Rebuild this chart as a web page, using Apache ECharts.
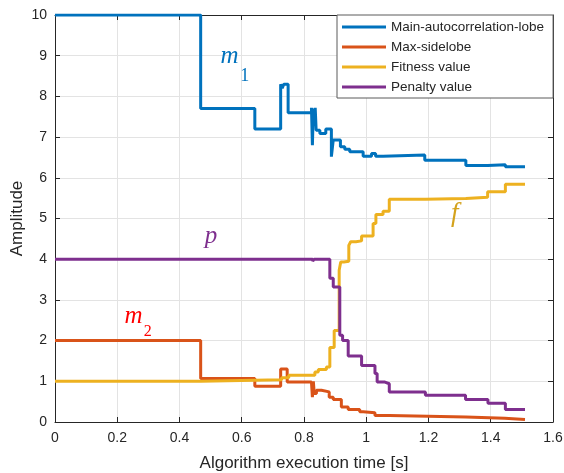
<!DOCTYPE html>
<html>
<head>
<meta charset="utf-8">
<script src="https://cdn.jsdelivr.net/npm/echarts@6/dist/echarts.min.js"></script>
<style>html,body{margin:0;padding:0;background:#fff}#c{width:564px;height:473px}</style>
</head>
<body>
<div id="c"></div>
<script>
// Step data: [time, value]; value holds from this time until the next point
var mainLobe = [[0,10],[0.468,7.7],[0.642,7.2],[0.725,8.3],[0.73,8.2],[0.735,8.3],[0.749,7.6],[0.824,7.72],[0.827,6.8],[0.830,7.7],[0.833,7.3],[0.836,7.72],[0.839,7.17],[0.851,7.09],[0.87,7.2],[0.888,6.52],[0.894,6.93],[0.917,6.76],[0.931,6.70],[0.947,6.64],[0.99,6.53],[1.017,6.6],[1.03,6.53],[1.054,6.56],[1.188,6.43],[1.32,6.3],[1.39,6.32],[1.447,6.27],[1.51,6.27]];
var maxSidelobe = [[0,2.0],[0.468,1.07],[0.642,0.88],[0.725,1.30],[0.746,0.98],[0.824,1.02],[0.827,0.61],[0.830,1.0],[0.833,0.7],[0.84,0.78],[0.856,0.74],[0.881,0.61],[0.894,0.55],[0.92,0.37],[0.942,0.31],[0.979,0.25],[0.99,0.23],[1.028,0.16],[1.074,0.12],[1.32,0.09],[1.445,0.06],[1.51,0.06]];
var fitness = [[0,1.0],[0.468,1.04],[0.728,1.09],[0.751,1.15],[0.835,1.23],[0.846,1.29],[0.872,1.35],[0.883,1.83],[0.897,2.25],[0.913,3.73],[0.918,3.93],[0.928,3.95],[0.944,4.34],[0.95,4.43],[0.967,4.45],[0.985,4.57],[1.022,4.88],[1.031,5.1],[1.054,5.18],[1.074,5.47],[1.19,5.49],[1.32,5.52],[1.39,5.66],[1.447,5.84],[1.51,5.84]];
var penalty = [[0,4.0],[0.828,3.95],[0.832,4.0],[0.883,3.53],[0.894,3.32],[0.915,2.13],[0.924,2.0],[0.942,1.62],[0.985,1.39],[1.028,1.19],[1.035,0.98],[1.06,0.94],[1.074,0.74],[1.19,0.66],[1.319,0.55],[1.391,0.46],[1.447,0.31],[1.51,0.31]];
var seriesNames = ['Main-autocorrelation-lobe','Max-sidelobe','Fitness value','Penalty value'];
var xTicks = {min:0, max:1.6, interval:0.2};
var yTicks = {min:0, max:10, interval:1};

var colors = ['#0072BD','#D95319','#EDB120','#7E2F8E'];
var dataSets = [mainLobe, maxSidelobe, fitness, penalty];
var chart = echarts.init(document.getElementById('c'), null, {renderer:'canvas'});
var font = 'Liberation Sans, Arial, sans-serif';
var serif = 'Liberation Serif, Times New Roman, serif';
var axisCol = '#262626';
function xAx(pos, labels){
  return {type:'value', position:pos, min:xTicks.min, max:xTicks.max, interval:xTicks.interval,
    axisLine:{show:true, onZero:false, lineStyle:{color:axisCol, width:1}},
    axisTick:{show:true, inside:true, length:5, lineStyle:{color:axisCol}},
    axisLabel:{show:labels, color:axisCol, fontSize:14, fontFamily:font, margin:9,
      formatter:function(v){return +v.toFixed(1)+'';}},
    splitLine:{show:labels, lineStyle:{color:'#e3e3e3', width:1}},
    name: labels ? 'Algorithm execution time [s]' : '', nameLocation:'middle', nameGap:33,
    nameTextStyle:{color:axisCol, fontSize:17, fontFamily:font}};
}
function yAx(pos, labels){
  return {type:'value', position:pos, min:yTicks.min, max:yTicks.max, interval:yTicks.interval,
    axisLine:{show:true, onZero:false, lineStyle:{color:axisCol, width:1}},
    axisTick:{show:true, inside:true, length:5, lineStyle:{color:axisCol}},
    axisLabel:{show:labels, color:axisCol, fontSize:14, fontFamily:font, margin:8},
    splitLine:{show:labels, lineStyle:{color:'#e3e3e3', width:1}},
    name: labels ? 'Amplitude' : '', nameLocation:'middle', nameGap:29, nameMoveOverlap:false,
    nameTextStyle:{color:axisCol, fontSize:17, fontFamily:font}};
}
var series = dataSets.map(function(d,i){
  return {name:seriesNames[i], type:'line', step:'end', data:d, showSymbol:false, symbol:'none',
    xAxisIndex:0, yAxisIndex:0, lineStyle:{color:colors[i], width:3}, itemStyle:{color:colors[i]},
    animation:false, z:2+i};
});
chart.setOption({
  animation:false,
  backgroundColor:'#fff',
  grid:{left:55, right:11, top:15, bottom:51, containLabel:false, outerBoundsMode:'none'},
  xAxis:[xAx('bottom', true), xAx('top', false)],
  yAxis:[yAx('left', true), yAx('right', false)],
  legend:{orient:'vertical', left:337, top:15, padding:[4,9,3,5], itemGap:4,
    itemWidth:44, itemHeight:12, backgroundColor:'#fff', borderColor:'#5a5a5a', borderWidth:1,
    textStyle:{color:axisCol, fontSize:13.5, fontFamily:font, lineHeight:16}, data:seriesNames, icon:'path://M0,4.6L44,4.6L44,7.4L0,7.4Z', z:20},
  series:series,
  graphic:[
    {type:'text', z:30, style:{text:'m', x:229.5, y:56.5, fill:'#0072BD', font:'italic 25px '+serif, textAlign:'center', textVerticalAlign:'middle'}},
    {type:'text', z:30, style:{text:'1', x:244.7, y:76, fill:'#0072BD', font:'18px '+serif, textAlign:'center', textVerticalAlign:'middle'}},
    {type:'text', z:30, style:{text:'m', x:133.5, y:316.5, fill:'#FF0000', font:'italic 25px '+serif, textAlign:'center', textVerticalAlign:'middle'}},
    {type:'text', z:30, style:{text:'2', x:147.8, y:331.3, fill:'#FF0000', font:'16px '+serif, textAlign:'center', textVerticalAlign:'middle'}},
    {type:'text', z:30, style:{text:'p', x:211, y:236, fill:'#7E2F8E', font:'italic 25px '+serif, textAlign:'center', textVerticalAlign:'middle'}},
    {type:'text', z:30, style:{text:'f', x:454.7, y:214.4, fill:'#D4A21C', font:'italic 27px '+serif, textAlign:'center', textVerticalAlign:'middle'}}
  ]
});
</script>
</body>
</html>
